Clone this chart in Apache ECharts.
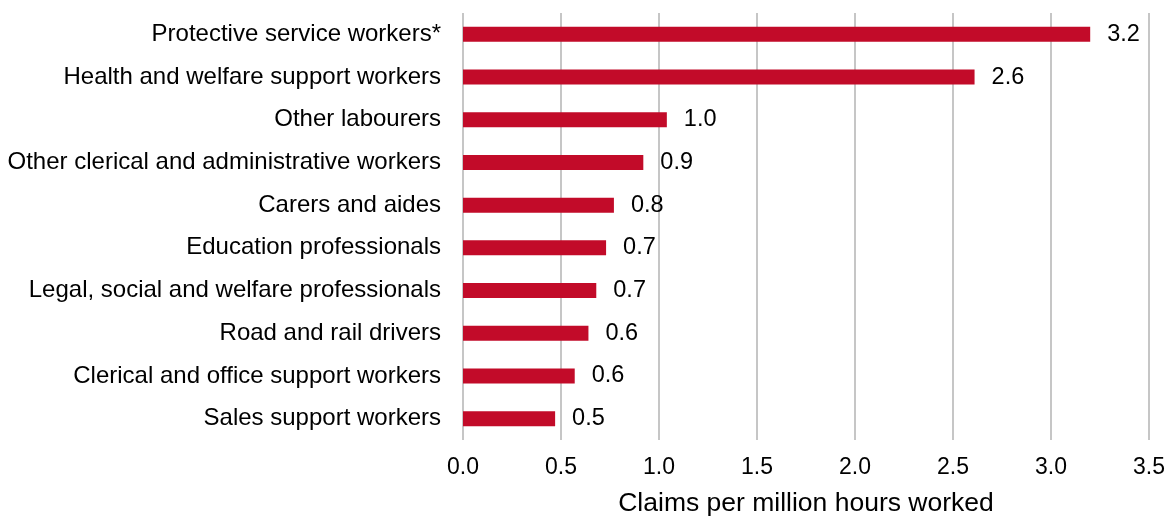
<!DOCTYPE html>
<html>
<head>
<meta charset="utf-8">
<script src="https://cdn.jsdelivr.net/npm/echarts@6/dist/echarts.min.js"></script>
<style>
  html, body { margin: 0; padding: 0; background: #fff; }
  #chart { width: 1168px; height: 518px; }
</style>
</head>
<body>
<div id="chart"></div>
<script>
// occupations, top to bottom as drawn
const occupations = [
  'Protective service workers*',
  'Health and welfare support workers',
  'Other labourers',
  'Other clerical and administrative workers',
  'Carers and aides',
  'Education professionals',
  'Legal, social and welfare professionals',
  'Road and rail drivers',
  'Clerical and office support workers',
  'Sales support workers'
]
// claims per million hours worked
const claimRates = [3.2, 2.61, 1.04, 0.92, 0.77, 0.73, 0.68, 0.64, 0.57, 0.47]
// labels as printed on the chart
const valueLabels = ['3.2', '2.6', '1.0', '0.9', '0.8', '0.7', '0.7', '0.6', '0.6', '0.5']

const chart = echarts.init(document.getElementById('chart'))

const font = 'Liberation Sans, Arial, sans-serif'

chart.setOption({
  animation: false,
  grid: {
    left: 463, right: 19, top: 13, bottom: 78,
    containLabel: false,
    outerBoundsMode: 'none'
  },
  xAxis: {
    type: 'value',
    min: 0,
    max: 3.5,
    interval: 0.5,
    name: 'Claims per million hours worked',
    nameLocation: 'middle',
    nameGap: 50,
    nameTextStyle: { color: '#000', fontSize: 26.5, fontFamily: font },
    axisLine: { show: false },
    axisTick: { show: false },
    axisLabel: {
      color: '#000', fontSize: 23, fontFamily: font, margin: 16,
      formatter: v => v.toFixed(1)
    },
    splitLine: { show: true, lineStyle: { color: '#c6c6c6', width: 2 } }
  },
  yAxis: {
    type: 'category',
    inverse: true,
    data: occupations,
    axisLine: { show: false },
    axisTick: { show: false },
    axisLabel: { color: '#000', fontSize: 24, fontFamily: font, margin: 22 }
  },
  series: [{
    type: 'bar',
    data: claimRates,
    barWidth: 15,
    itemStyle: { color: '#c20b29' },
    label: {
      show: true,
      position: 'right',
      distance: 17,
      color: '#000',
      fontSize: 23.5,
      fontFamily: font,
      formatter: p => valueLabels[p.dataIndex]
    }
  }]
})
</script>
</body>
</html>
